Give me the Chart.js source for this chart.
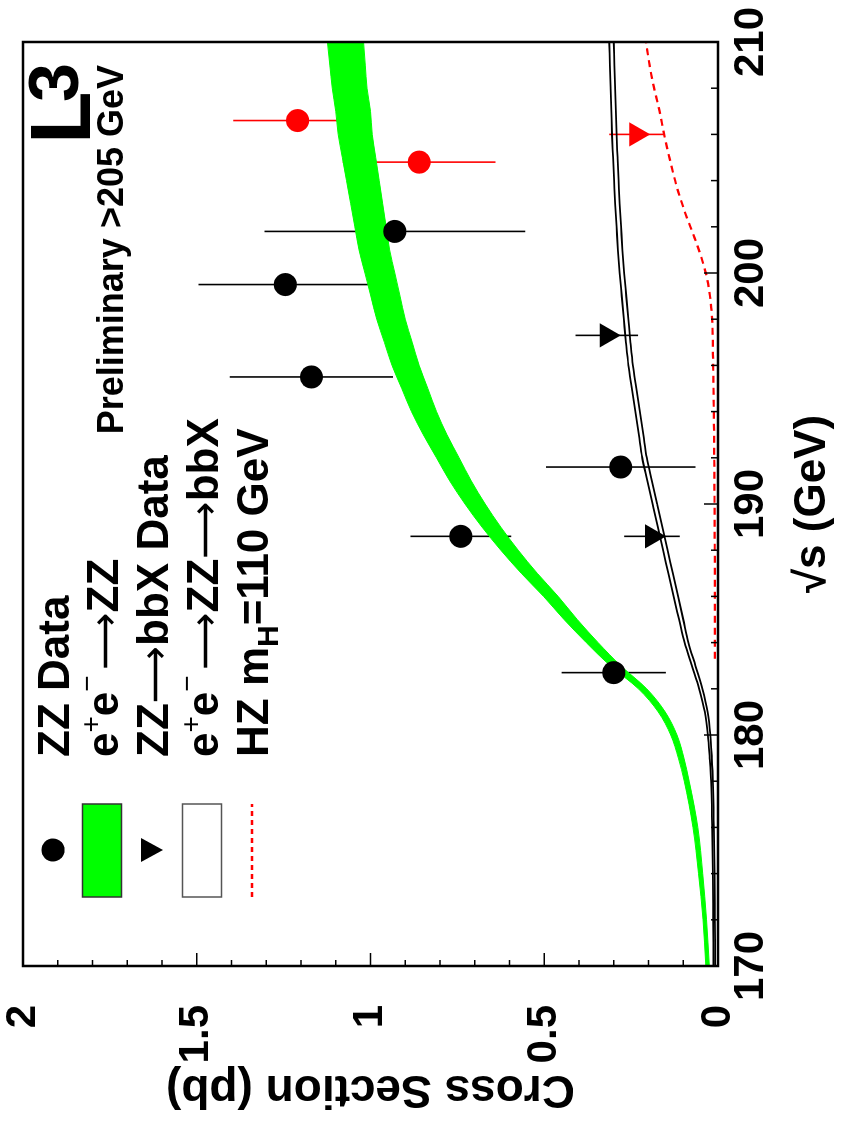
<!DOCTYPE html>
<html>
<head>
<meta charset="utf-8">
<script src="https://cdn.jsdelivr.net/npm/chart.js@4.4.1/dist/chart.umd.min.js"></script>
<style>
html, body { margin: 0; padding: 0; background: #fff; overflow: hidden; }
#wrap { position: absolute; left: 0; top: 0; width: 1122px; height: 843px;
        transform-origin: 0 0; transform: translateY(1122px) rotate(-90deg); }
</style>
</head>
<body>
<div id="wrap"><canvas id="c" width="1122" height="843"></canvas></div>
<script>
// theory curves, sampled on a sqrt(s) grid
const curveSqrtS = [170, 172, 174, 176, 178, 179, 180, 181, 182, 183, 184, 185, 186, 187, 188, 189, 190, 191, 192, 193, 194, 195, 196, 197, 198, 199, 200, 201, 202, 203, 204, 205, 206, 207, 208, 209, 210];
const zzLow  = [0.025, 0.033, 0.044, 0.058, 0.083, 0.098, 0.118, 0.152, 0.205, 0.28, 0.345, 0.405, 0.46, 0.52, 0.575, 0.625, 0.67, 0.71, 0.745, 0.78, 0.81, 0.835, 0.86, 0.88, 0.9, 0.915, 0.93, 0.945, 0.955, 0.965, 0.975, 0.985, 0.995, 1.0, 1.01, 1.015, 1.02];
const zzHigh = [0.035, 0.043, 0.056, 0.072, 0.097, 0.114, 0.136, 0.172, 0.229, 0.31, 0.379, 0.443, 0.502, 0.566, 0.625, 0.679, 0.728, 0.772, 0.81, 0.848, 0.882, 0.91, 0.938, 0.96, 0.982, 0.999, 1.016, 1.033, 1.045, 1.057, 1.069, 1.081, 1.093, 1.1, 1.11, 1.117, 1.124];
const bbLow  = [0.008, 0.009, 0.01, 0.012, 0.015, 0.018, 0.022, 0.03, 0.045, 0.065, 0.085, 0.1, 0.115, 0.13, 0.145, 0.16, 0.175, 0.19, 0.205, 0.215, 0.225, 0.235, 0.245, 0.252, 0.258, 0.264, 0.27, 0.275, 0.279, 0.283, 0.286, 0.289, 0.292, 0.294, 0.296, 0.298, 0.3];
const bbHigh = [0.013, 0.014, 0.015, 0.017, 0.02, 0.024, 0.029, 0.038, 0.054, 0.075, 0.096, 0.112, 0.128, 0.143, 0.158, 0.173, 0.188, 0.203, 0.218, 0.228, 0.238, 0.248, 0.258, 0.265, 0.271, 0.277, 0.283, 0.288, 0.292, 0.296, 0.299, 0.302, 0.305, 0.307, 0.309, 0.311, 0.313];
const hzSqrtS = [183.3, 186, 190, 194, 196, 198, 199, 200, 201, 201.7, 202.5, 203.7, 205, 206, 207, 208.2, 209, 210];
const hzXsec  = [0.009, 0.009, 0.01, 0.012, 0.014, 0.017, 0.023, 0.035, 0.055, 0.072, 0.092, 0.118, 0.14, 0.155, 0.168, 0.187, 0.197, 0.207];

// measurements
const zzSqrtS = [182.7, 188.6, 195.5, 199.5, 201.8];
const zzXsec  = [0.30, 0.74, 1.17, 1.245, 0.93];
const zzErr   = [0.15, 0.145, 0.235, 0.25, 0.375];
const zzNewSqrtS = [204.8, 206.6];
const zzNewXsec  = [0.86, 1.21];
const zzNewErr   = [0.22, 0.185];
const bbSqrtS = [188.6, 197.3];
const bbXsec  = [0.19, 0.32];
const bbErr   = [0.08, 0.09];
const bbCircSqrtS = [191.6];
const bbCircXsec  = [0.28];
const bbCircErr   = [0.215];
const bbNewSqrtS = [206.0];
const bbNewXsec  = [0.235];
const bbNewErr   = [0.078];

const xTicks = [170, 180, 190, 200, 210];
const yTicks = [0, 0.5, 1, 1.5, 2];

const FONT = '"Liberation Sans", Arial, Helvetica, sans-serif';
const GREEN = '#00ff00';
const RED = '#ff0000';

const pts = (xs, ys) => xs.map((x, i) => ({x: x, y: ys[i]}));

function errorBars(chart) {
  const {ctx, scales: {x, y}} = chart;
  const sets = [
    [zzSqrtS, zzXsec, zzErr, '#000'],
    [zzNewSqrtS, zzNewXsec, zzNewErr, RED],
    [bbSqrtS, bbXsec, bbErr, '#000'],
    [bbCircSqrtS, bbCircXsec, bbCircErr, '#000'],
    [bbNewSqrtS, bbNewXsec, bbNewErr, RED]
  ];
  ctx.save();
  ctx.lineWidth = 1.6;
  sets.forEach(([xs, ys, es, col]) => {
    ctx.strokeStyle = col;
    xs.forEach((v, i) => {
      const px = x.getPixelForValue(v);
      ctx.beginPath();
      ctx.moveTo(px, y.getPixelForValue(ys[i] - es[i]));
      ctx.lineTo(px, y.getPixelForValue(ys[i] + es[i]));
      ctx.stroke();
    });
  });
  ctx.restore();
}

// text with super/subscripts: parts = [[text, size, weight, dy, family]]
function richText(ctx, x, y, parts) {
  let cx = x;
  parts.forEach(([t, size, weight, dy, fam]) => {
    ctx.font = weight + ' ' + size + 'px ' + (fam || FONT);
    ctx.fillText(t, cx, y + dy);
    cx += ctx.measureText(t).width;
  });
}

const ARROW = '"DejaVu Sans", sans-serif';

const decor = {
  id: 'decor',
  beforeDatasetsDraw(chart) { errorBars(chart); },
  afterDraw(chart) {
    const {ctx, chartArea: a, scales: {x, y}} = chart;
    ctx.save();
    // inward ticks
    ctx.strokeStyle = '#000';
    ctx.lineWidth = 1.5;
    for (let v = 170; v <= 210; v += 2) {
      const px = x.getPixelForValue(v);
      const len = v % 10 === 0 ? 14 : 7;
      ctx.beginPath(); ctx.moveTo(px, a.bottom); ctx.lineTo(px, a.bottom - len); ctx.stroke();
    }
    for (let k = 0; k <= 20; k++) {
      const py = y.getPixelForValue(k / 10);
      const len = k % 5 === 0 ? 13 : 6;
      ctx.beginPath(); ctx.moveTo(a.left, py); ctx.lineTo(a.left + len, py); ctx.stroke();
    }
    // frame
    ctx.lineWidth = 2.5;
    ctx.strokeRect(a.left, a.top, a.right - a.left, a.bottom - a.top);

    // legend
    const rows = [53, 102, 152, 202, 252];
    const sx = 272, tx = 365, fs = 44;
    ctx.fillStyle = '#000';
    ctx.beginPath(); ctx.arc(sx, rows[0], 11.5, 0, Math.PI * 2); ctx.fill();
    ctx.fillStyle = GREEN; ctx.fillRect(sx - 47, rows[1] - 19.5, 93, 39);
    ctx.lineWidth = 1.5; ctx.strokeStyle = '#333'; ctx.strokeRect(sx - 47, rows[1] - 19.5, 93, 39);
    ctx.fillStyle = '#000';
    ctx.beginPath(); ctx.moveTo(sx - 12, rows[2] - 11); ctx.lineTo(sx + 12, rows[2] - 11); ctx.lineTo(sx, rows[2] + 11); ctx.closePath(); ctx.fill();
    ctx.strokeStyle = '#555'; ctx.strokeRect(sx - 47, rows[3] - 19.5, 93, 39);
    ctx.strokeStyle = RED; ctx.lineWidth = 2.5; ctx.setLineDash([5, 4]);
    ctx.beginPath(); ctx.moveTo(sx - 47, rows[4]); ctx.lineTo(sx + 46, rows[4]); ctx.stroke();
    ctx.setLineDash([]);

    ctx.fillStyle = '#000';
    ctx.textBaseline = 'alphabetic';
    ctx.textAlign = 'left';
    const off = fs * 0.36;
    const B = 'bold', N = 'normal';
    const arr = ['\u27F6', 40, N, 0, ARROW];
    richText(ctx, tx, rows[0] + off, [['ZZ Data', fs, B, 0]]);
    richText(ctx, tx, rows[1] + off, [['e', fs, B, 0], ['+', 28, N, -18], ['e', fs, B, 0], ['\u2212', 28, N, -22], [' ', 20, N, 0], arr, ['ZZ', fs, B, 0]]);
    richText(ctx, tx, rows[2] + off, [['ZZ', fs, B, 0], arr, ['bbX Data', fs, B, 0]]);
    richText(ctx, tx, rows[3] + off, [['e', fs, B, 0], ['+', 28, N, -18], ['e', fs, B, 0], ['\u2212', 28, N, -22], [' ', 20, N, 0], arr, ['ZZ', fs, B, 0], arr, ['bbX', fs, B, 0]]);
    richText(ctx, tx, rows[4] + off, [['HZ m', fs, B, 0], ['H', 30, B, 10], ['=110 GeV', fs, B, 0]]);

    // labels
    ctx.textAlign = 'right';
    ctx.font = 'bold 36px ' + FONT;
    ctx.fillText('Preliminary >205 GeV', 1057, 110 + 13);
    ctx.textAlign = 'left';
    ctx.font = 'bold 86px ' + FONT;
    ctx.fillText('L', 978, 90);
    ctx.font = 'bold 70px ' + FONT;
    ctx.fillText('3', 1020, 78);
    ctx.restore();
  }
};

const lineDs = (data, color, width, extra) => Object.assign({
  type: 'line', data: data, borderColor: color, borderWidth: width,
  pointRadius: 0, fill: false, cubicInterpolationMode: 'monotone'
}, extra || {});

new Chart(document.getElementById('c'), {
  type: 'scatter',
  data: {
    datasets: [
      {data: pts(zzSqrtS, zzXsec), pointStyle: 'circle', pointRadius: 11.5, backgroundColor: '#000', borderColor: '#000', borderWidth: 0},
      {data: pts(zzNewSqrtS, zzNewXsec), pointStyle: 'circle', pointRadius: 11.5, backgroundColor: RED, borderColor: RED, borderWidth: 0},
      {data: pts(bbCircSqrtS, bbCircXsec), pointStyle: 'circle', pointRadius: 11.5, backgroundColor: '#000', borderColor: '#000', borderWidth: 0},
      {data: pts(bbSqrtS, bbXsec), pointStyle: 'triangle', rotation: 180, pointRadius: 14, backgroundColor: '#000', borderColor: '#000', borderWidth: 0},
      {data: pts(bbNewSqrtS, bbNewXsec), pointStyle: 'triangle', rotation: 180, pointRadius: 14, backgroundColor: RED, borderColor: RED, borderWidth: 0},
      lineDs(pts(hzSqrtS, hzXsec), RED, 2.2, {borderDash: [7, 5]}),
      lineDs(pts(curveSqrtS, bbHigh), '#000', 1.8),
      lineDs(pts(curveSqrtS, bbLow), '#000', 1.8),
      lineDs(pts(curveSqrtS, zzLow), GREEN, 1),
      lineDs(pts(curveSqrtS, zzHigh), GREEN, 1, {fill: 8, backgroundColor: GREEN})
    ]
  },
  options: {
    responsive: false,
    animation: false,
    devicePixelRatio: 1,
    layout: {padding: {top: 23, right: 42, left: 0, bottom: 0}},
    plugins: {legend: {display: false}, tooltip: {enabled: false}},
    scales: {
      x: {
        type: 'linear', min: 170, max: 210,
        afterFit(s) { s.height = 125; s.paddingLeft = 0; s.paddingRight = 0; },
        afterBuildTicks(s) { s.ticks = xTicks.map(v => ({value: v})); },
        grid: {display: false, drawTicks: false},
        border: {display: false},
        ticks: {padding: 8, color: '#000', maxRotation: 0, font: {family: FONT, size: 42, weight: 'bold'}},
        title: {display: true, text: '\u221As (GeV)', color: '#000', padding: {top: 0, bottom: 4}, font: {family: FONT, size: 44, weight: 'bold'}}
      },
      y: {
        type: 'linear', min: 0, max: 2,
        afterFit(s) { s.width = 156; s.paddingTop = 0; s.paddingBottom = 0; },
        afterBuildTicks(s) { s.ticks = yTicks.map(v => ({value: v})); },
        grid: {display: false, drawTicks: false},
        border: {display: false},
        ticks: {padding: 39, color: '#000', font: {family: FONT, size: 42, weight: 'bold'}, callback: v => String(v)},
        title: {display: true, text: 'Cross Section (pb)', color: '#000', padding: {top: 6, bottom: 0}, font: {family: FONT, size: 46, weight: 'bold'}}
      }
    }
  },
  plugins: [decor]
});
</script>
</body>
</html>
